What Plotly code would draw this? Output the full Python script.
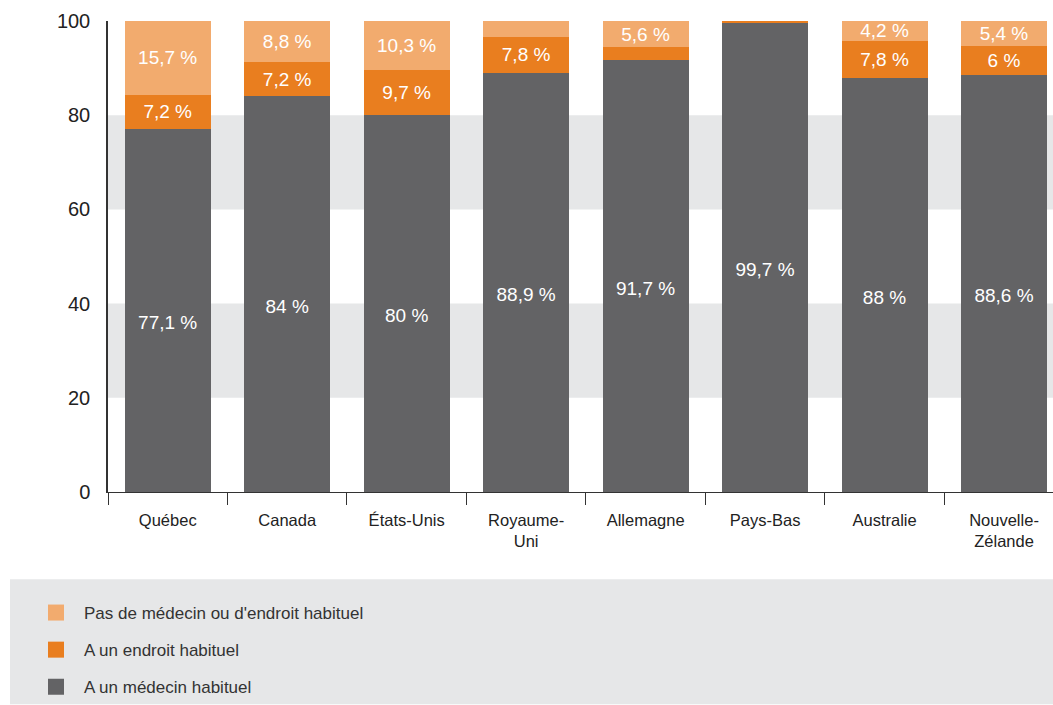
import plotly.graph_objects as go

categories = ["Québec", "Canada", "États-Unis", "Royaume-<br>Uni", "Allemagne",
              "Pays-Bas", "Australie", "Nouvelle-<br>Zélande"]
medecin = [77.1, 84.0, 80.0, 88.9, 91.7, 99.7, 88.0, 88.6]
endroit = [7.2, 7.2, 9.7, 7.8, 2.7, 0.3, 7.8, 6.0]
aucun = [15.7, 8.8, 10.3, 3.3, 5.6, 0.0, 4.2, 5.4]
medecin_txt = ["77,1 %", "84 %", "80 %", "88,9 %", "91,7 %", "99,7 %", "88 %", "88,6 %"]
endroit_txt = ["7,2 %", "7,2 %", "9,7 %", "7,8 %", "", "", "7,8 %", "6 %"]
aucun_txt = ["15,7 %", "8,8 %", "10,3 %", "", "5,6 %", "", "4,2 %", "5,4 %"]
names = ["A un médecin habituel", "A un endroit habituel", "Pas de médecin ou d'endroit habituel"]
colors = ["#636365", "#e97e1f", "#f2ab6e"]
y_ticks = [0, 20, 40, 60, 80, 100]
bands = [(20, 40), (60, 80)]

FONT = "Liberation Sans, Arial, sans-serif"

fig = go.Figure()
for k, (vals, txt, name, col) in enumerate(zip([medecin, endroit, aucun],
                                               [medecin_txt, endroit_txt, aucun_txt],
                                               names, colors)):
    fig.add_trace(go.Bar(
        x=categories, y=vals, text=txt, name=name,
        texttemplate="\u00a0<br>%{text}" if k == 0 else "%{text}",
        marker=dict(color=col, line=dict(width=0)),
        textposition="inside", insidetextanchor="middle", textangle=0,
        textfont=dict(color="white", size=19, family=FONT),
        hoverinfo="skip", showlegend=False,
    ))

# legend entries (square symbols), top to bottom
for i, (name, col) in enumerate(reversed(list(zip(names, colors)))):
    fig.add_trace(go.Scatter(
        x=[None], y=[None], mode="markers", name=name,
        marker=dict(symbol="square", size=16, color=col),
        legendgroup=f"g{i}", showlegend=True,
    ))

W, H = 1053, 705
L, T, B = 108, 21, 209
pw, ph = W - L, H - T - B


def px_x(x):
    return (x - L) / pw


def px_y(y):
    return (T + ph - y) / ph


shapes = []
for lo, hi in bands:
    shapes.append(dict(type="rect", xref="paper", yref="y", x0=0, x1=1, y0=lo, y1=hi,
                       fillcolor="#e6e7e8", line=dict(width=0), layer="below"))
# legend background panel
shapes.append(dict(type="rect", xref="paper", yref="paper", x0=px_x(10), x1=1.0,
                   y0=px_y(H + 5), y1=px_y(584),
                   fillcolor="#e6e7e8", line=dict(width=0), layer="below"))

fig.update_layout(
    width=W, height=H,
    margin=dict(l=L, r=0, t=T, b=B),
    paper_bgcolor="white", plot_bgcolor="rgba(0,0,0,0)",
    barmode="stack", bargap=0.28,
    font=dict(family=FONT, color="#222"),
    uniformtext=dict(minsize=19, mode="show"),
    shapes=shapes,
    showlegend=True,
    legend=dict(x=px_x(28), y=px_y(600), xanchor="left", yanchor="top",
                bgcolor="rgba(0,0,0,0)", font=dict(size=17, color="#333", family=FONT),
                tracegroupgap=12, itemsizing="trace", itemwidth=46),
    xaxis=dict(type="category", range=[-0.5, 7.41], showgrid=False,
               showline=True, linecolor="#333", linewidth=1,
               ticks="outside", tickson="boundaries", ticklen=12, tickcolor="#333",
               ticklabelstandoff=13,
               tickfont=dict(size=16.5, color="#222"), fixedrange=True),
    yaxis=dict(range=[0, 100], tickvals=y_ticks, showgrid=False, zeroline=False,
               showline=True, linecolor="#333", linewidth=1.5, ticks="",
               ticklabelstandoff=12, tickfont=dict(size=20, color="#222"),
               fixedrange=True),
)

fig.write_html("out.html",
               config={"displayModeBar": False},
               post_script="document.body.style.margin='0';"
                           "document.body.style.overflow='hidden';")
